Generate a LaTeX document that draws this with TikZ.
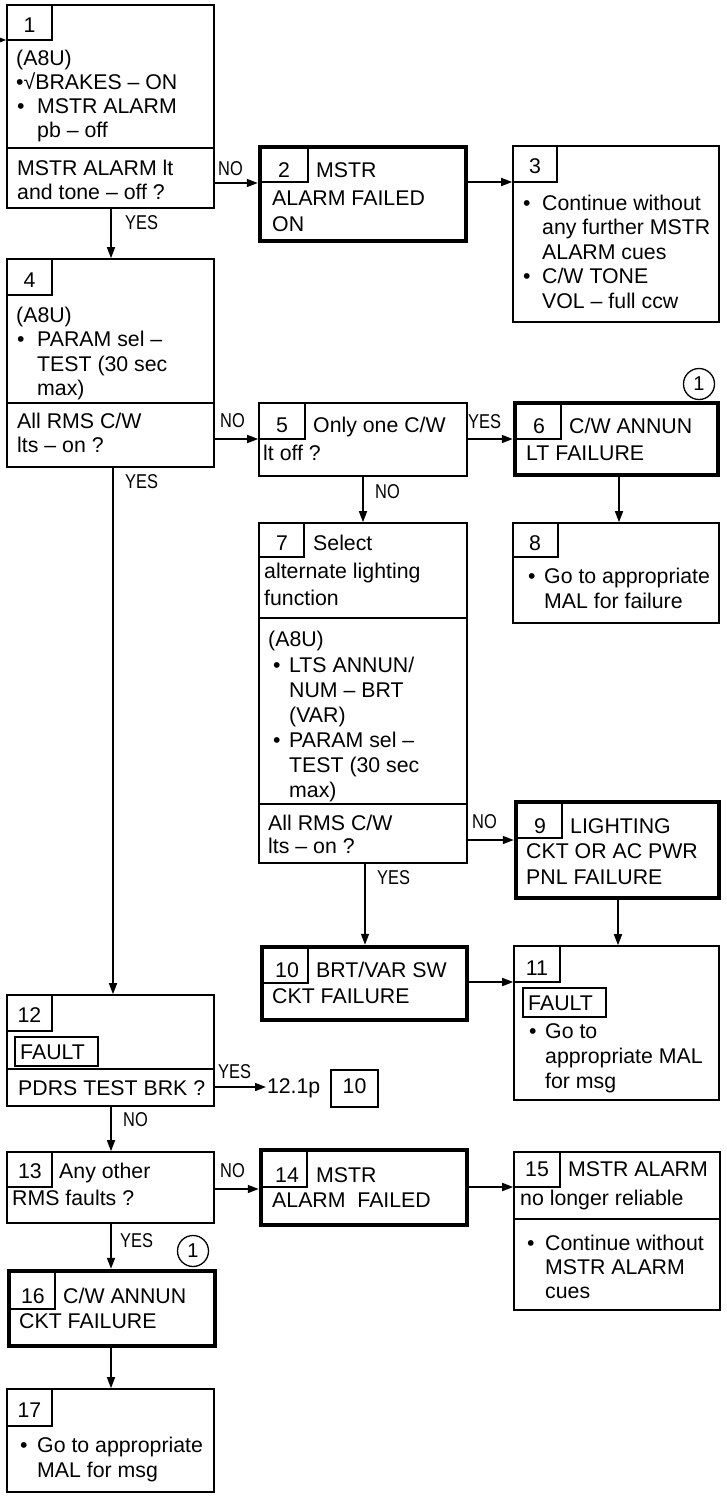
\documentclass[tikz,border=0pt]{standalone}
\usepackage{fontspec}
\setmainfont{Liberation Sans}
\newfontfamily\narrowfont[FakeStretch=0.82]{Liberation Sans}
\usetikzlibrary{arrows.meta,fit}
\newcommand\bul[1]{\makebox[#1][l]{•}}
\newcommand\ind[1]{\hspace*{#1}}
\newcommand\T{\rule{0pt}{18pt}}
\begin{document}
\begin{tikzpicture}[x=1pt,y=-1pt,
  thinbox/.style={draw, line width=1.6pt, inner sep=0pt},
  thickbox/.style={draw, line width=4.5pt, inner sep=0pt},
  rule/.style={line width=1.6pt},
  tabline/.style={line width=1.2pt},
  txt/.style={anchor=base west, inner sep=0pt, align=left, font=\fontsize{21.3}{24.5}\selectfont},
  mtxt/.style={anchor=north west, inner sep=0pt, align=left, font=\fontsize{21.3}{24.5}\selectfont},
  num/.style={anchor=base, inner sep=0pt, font=\fontsize{21.3}{24.5}\selectfont},
  lbl/.style={anchor=base west, inner sep=0pt, font=\narrowfont\fontsize{20}{22}\selectfont},
  arr/.style={line width=1.6pt, -{Triangle[length=11pt,width=8pt]}},
  ring/.style={draw, circle, line width=1.3pt, minimum size=31pt, inner sep=0pt, font=\fontsize{20}{22}\selectfont},
]
\useasboundingbox (0,0) rectangle (727,1501);

% ---------- Box 1
\node[thinbox, fit={(7,5) (214,208)}] (b1) {};
\draw[tabline] (7,40) -| (52,5);
\draw[rule] (7,148) -- (214,148);
\node[num] (n1) at (29.5,33) {1};
\node[mtxt] (t1a) at (16,65-18) {\T(A8U)\\•√BRAKES – ON};
\node[mtxt] (t1b) at (17,113-18) {\T\bul{20pt}MSTR ALARM\\\ind{20pt}pb – off};
\node[mtxt] (t1q) at (17,175-18) {\T MSTR ALARM lt\\and tone – off ?};

% ---------- Box 2
\node[thickbox, fit={(260,147) (466,241)}] (b2) {};
\draw[tabline] (262,182) -| (308,149);
\node[num] (n2) at (284,177) {2};
\node[txt] (t2a) at (316,177) {MSTR};
\node[mtxt, font=\fontsize{21.3}{26}\selectfont] (t2b) at (272,205-18) {\T ALARM FAILED\\ON};

% ---------- Box 3
\node[thinbox, fit={(513,146) (719,322)}] (b3) {};
\draw[tabline] (513,182) -| (557,146);
\node[num] (n3) at (535,173) {3};
\node[mtxt] (t3a) at (523,210-18) {\T\bul{19pt}Continue without\\\ind{19pt}any further MSTR\\\ind{19pt}ALARM cues\\\bul{19pt}C/W TONE\\\ind{19pt}VOL – full ccw};

% ---------- Box 4
\node[thinbox, fit={(7,259) (214,467)}] (b4) {};
\draw[tabline] (7,295) -| (52,259);
\draw[rule] (7,403) -- (214,403);
\node[num] (n4) at (29.5,287) {4};
\node[mtxt] (t4a) at (16,322-18) {\T(A8U)\\\ind{1pt}\bul{20pt}PARAM sel –\\\ind{21pt}TEST (30 sec\\\ind{21pt}max)};
\node[mtxt] (t4q) at (17,428-18) {\T All RMS C/W\\lts – on ?};

% ---------- Box 5
\node[thinbox, fit={(259,403) (467,476)}] (b5) {};
\draw[tabline] (259,439) -| (305,403);
\node[num] (n5) at (282,432) {5};
\node[txt] (t5a) at (313,432) {Only one C/W};
\node[txt] (t5b) at (263,460) {lt off ?};

% ---------- Box 6
\node[thickbox, fit={(515,403) (718,475)}] (b6) {};
\draw[tabline] (517,439) -| (561,405);
\node[num] (n6) at (539,433) {6};
\node[txt] (t6a) at (569,433) {C/W ANNUN};
\node[txt] (t6b) at (526,460) {LT FAILURE};
\node[ring] (c6) at (699,384) {1};

% ---------- Box 7
\node[thinbox, fit={(259,523) (467,863)}] (b7) {};
\draw[tabline] (259,557) -| (304,523);
\draw[rule] (259,618) -- (467,618);
\draw[rule] (259,804) -- (467,804);
\node[num] (n7) at (282,550) {7};
\node[txt] (t7a) at (313,550) {Select};
\node[mtxt, font=\fontsize{21.3}{27}\selectfont] (t7b) at (264,578-18) {\T alternate lighting\\function};
\node[txt] (t7c) at (268,646) {(A8U)};
\node[mtxt, font=\fontsize{21.3}{25}\selectfont] (t7d) at (273,672-18) {\T\bul{16pt}LTS ANNUN/\\\ind{16pt}NUM – BRT\\\ind{16pt}(VAR)\\\bul{16pt}PARAM sel –\\\ind{16pt}TEST (30 sec\\\ind{16pt}max)};
\node[mtxt, font=\fontsize{21.3}{23}\selectfont] (t7q) at (268,830-18) {\T All RMS C/W\\lts – on ?};

% ---------- Box 8
\node[thinbox, fit={(513,523) (719,623)}] (b8) {};
\draw[tabline] (513,557) -| (558,523);
\node[num] (n8) at (535,550) {8};
\node[mtxt, font=\fontsize{21.3}{25}\selectfont] (t8a) at (528,583-18) {\T\bul{16pt}Go to appropriate\\\ind{16pt}MAL for failure};

% ---------- Box 9
\node[thickbox, fit={(516,802) (719,898)}] (b9) {};
\draw[tabline] (518,838) -| (562,804);
\node[num] (n9) at (540,833) {9};
\node[txt] (t9a) at (570,833) {LIGHTING};
\node[mtxt, font=\fontsize{21.3}{26}\selectfont] (t9b) at (526,858-18) {\T CKT OR AC PWR\\PNL FAILURE};

% ---------- Box 10
\node[thickbox, fit={(262,947) (467,1020)}] (b10) {};
\draw[tabline] (264,983) -| (308,949);
\node[num] (n10) at (287,977) {10};
\node[txt] (t10a) at (316,977) {BRT/VAR SW};
\node[txt] (t10b) at (272,1003) {CKT FAILURE};

% ---------- Box 11
\node[thinbox, fit={(514,946) (719,1100)}] (b11) {};
\draw[tabline] (514,982) -| (560,946);
\node[num] (n11) at (537,975) {11};
\node[draw, line width=1.2pt, inner sep=0pt, fit={(523,988) (606,1017)}] (f11) {};
\node[txt] (t11f) at (528,1010) {FAULT};
\node[mtxt, font=\fontsize{21.3}{25}\selectfont] (t11a) at (529,1038-18) {\T\bul{16pt}Go to\\\ind{16pt}appropriate MAL\\\ind{16pt}for msg};

% ---------- Box 12
\node[thinbox, fit={(7,995) (214,1106)}] (b12) {};
\draw[tabline] (7,1031) -| (52,995);
\draw[rule] (7,1069) -- (214,1069);
\node[num] (n12) at (29.5,1022) {12};
\node[draw, line width=1.2pt, inner sep=0pt, fit={(15,1037) (98,1066)}] (f12) {};
\node[txt] (t12f) at (20,1059) {FAULT};
\node[txt] (t12q) at (18,1095) {PDRS TEST BRK ?};
\node[txt, outer sep=1pt] (r121) at (266,1093) {12.1p};
\node[draw, line width=1.4pt, inner sep=0pt, fit={(331,1070) (378,1107)}] (r10) {};
\node[num] (r10n) at (354.5,1093) {10};

% ---------- Box 13
\node[thinbox, fit={(7,1152) (214,1223)}] (b13) {};
\draw[tabline] (7,1187) -| (52,1152);
\node[num] (n13) at (30,1178) {13};
\node[txt] (t13a) at (59,1178) {Any other};
\node[txt] (t13b) at (12,1205) {RMS faults ?};

% ---------- Box 14
\node[thickbox, fit={(261,1150) (467,1225)}] (b14) {};
\draw[tabline] (263,1187) -| (307,1152);
\node[num] (n14) at (287,1182) {14};
\node[txt] (t14a) at (316,1182) {MSTR};
\node[txt] (t14b) at (272,1207) {ALARM\ \ FAILED};

% ---------- Box 15
\node[thinbox, fit={(514,1152) (720,1310)}] (b15) {};
\draw[tabline] (514,1187) -| (560,1152);
\draw[rule] (514,1219) -- (720,1219);
\node[num] (n15) at (537,1176) {15};
\node[txt] (t15a) at (568,1176) {MSTR ALARM};
\node[txt] (t15b) at (520,1205) {no longer reliable};
\node[mtxt, font=\fontsize{21.3}{24}\selectfont] (t15c) at (527,1250-18) {\T\bul{18pt}Continue without\\\ind{18pt}MSTR ALARM\\\ind{18pt}cues};

% ---------- Box 16
\node[thickbox, fit={(9,1271) (215,1346)}] (b16) {};
\draw[tabline] (11,1309) -| (55,1273);
\node[num] (n16) at (33,1303) {16};
\node[txt] (t16a) at (63,1303) {C/W ANNUN};
\node[txt] (t16b) at (19,1328) {CKT FAILURE};
\node[ring] (c16) at (193,1251) {1};

% ---------- Box 17
\node[thinbox, fit={(7,1389) (214,1492)}] (b17) {};
\draw[tabline] (7,1426) -| (52,1389);
\node[num] (n17) at (29.5,1417) {17};
\node[mtxt, font=\fontsize{21.3}{25}\selectfont] (t17a) at (20,1452-18) {\T\bul{17pt}Go to appropriate\\\ind{17pt}MAL for msg};

% ---------- Connectors
\coordinate (in1) at (0,40);
\draw[arr] (in1) -- (in1 -| b1.west);
\draw[arr] (b1.east |- 0,183) -- (b2.west |- 0,183);
\draw[arr] (b2.east |- 0,182) -- (b3.west |- 0,182);
\draw[arr] (b1.south -| 111,0) -- (b4.north -| 111,0);
\draw[arr] (b4.east |- 0,439) -- (b5.west |- 0,439);
\draw[arr] (b5.east |- 0,439) -- (b6.west |- 0,439);
\draw[arr] (b5.south -| 363,0) -- (b7.north -| 363,0);
\draw[arr] (b6.south -| 619,0) -- (b8.north -| 619,0);
\draw[arr] (b7.east |- 0,840) -- (b9.west |- 0,840);
\draw[arr] (b7.south -| 365,0) -- (b10.north -| 365,0);
\draw[arr] (b9.south -| 618,0) -- (b11.north -| 618,0);
\draw[arr] (b10.east |- 0,982) -- (b11.west |- 0,982);
\draw[arr] (b4.south -| 113,0) -- (b12.north -| 113,0);
\draw[arr] (b12.east |- 0,1087) -- (r121.west |- 0,1087);
\draw[arr] (b12.south -| 111,0) -- (b13.north -| 111,0);
\draw[arr] (b13.east |- 0,1189) -- (b14.west |- 0,1189);
\draw[arr] (b14.east |- 0,1187) -- (b15.west |- 0,1187);
\draw[arr] (b13.south -| 111,0) -- (b16.north -| 111,0);
\draw[arr] (b16.south -| 111,0) -- (b17.north -| 111,0);

% ---------- Labels
\node[lbl] (l1) at (218,175) {NO};
\node[lbl] (l2) at (125,229) {YES};
\node[lbl] (l3) at (220,427) {NO};
\node[lbl] (l4) at (125,488) {YES};
\node[lbl] (l5) at (468,428) {YES};
\node[lbl] (l6) at (375,498) {NO};
\node[lbl] (l7) at (472,828) {NO};
\node[lbl] (l8) at (377,884) {YES};
\node[lbl] (l9) at (218,1078) {YES};
\node[lbl] (l10) at (123,1126) {NO};
\node[lbl] (l11) at (220,1177) {NO};
\node[lbl] (l12) at (120,1247) {YES};
\end{tikzpicture}
\end{document}
